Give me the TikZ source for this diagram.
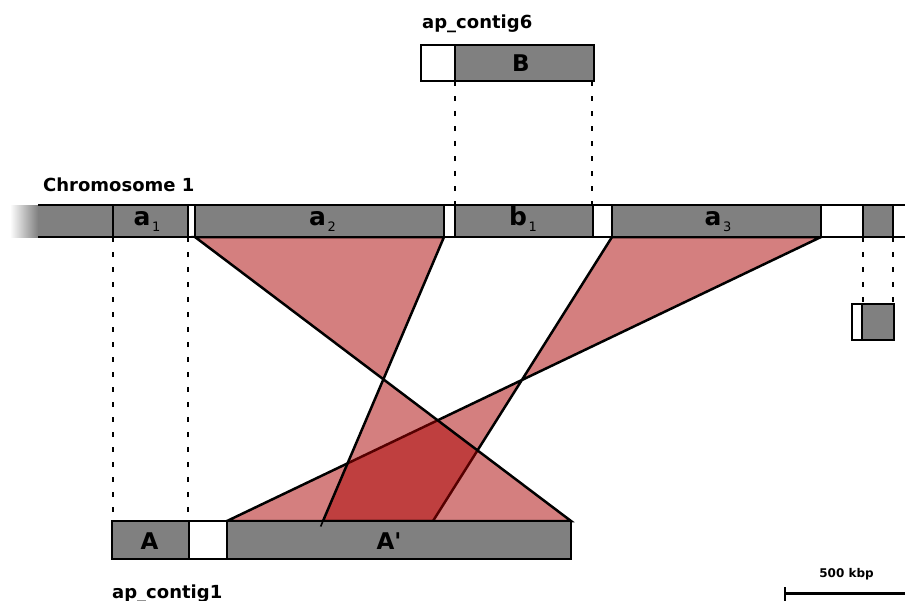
\documentclass[tikz,border=0pt]{standalone}
\usepackage{fontspec}
\setmainfont{DejaVu Sans}
\usetikzlibrary{calc}
\definecolor{blockgray}{HTML}{808080}
\definecolor{synteny}{HTML}{AA0000}
\begin{document}
\begin{tikzpicture}[x=1pt,y=-1pt,
  seg/.style={draw, line width=2.7pt, inner sep=0pt, outer sep=0pt, anchor=north west},
  gene/.style={seg, fill=blockgray},
  gapbox/.style={seg, fill=white},
  dotline/.style={line width=2.8pt, dash pattern=on 5pt off 10pt},
  link/.style={fill=synteny, fill opacity=0.5, draw=black, line width=2.5pt, line join=miter},
  title/.style={font=\fontsize{18}{18}\selectfont\bfseries, inner sep=0pt, anchor=base west},
  caplabel/.style={font=\fontsize{23}{23}\selectfont\bfseries, inner sep=0pt, anchor=base},
  genelabel/.style={font=\fontsize{25}{25}\selectfont\bfseries, inner sep=0pt, anchor=base},
  scaletext/.style={font=\fontsize{12}{12}\selectfont\bfseries, inner sep=0pt, anchor=base}
]
\newcommand{\idx}[1]{\kern1.5pt\raisebox{-6pt}{\fontsize{13}{13}\selectfont\mdseries #1}}
\useasboundingbox (0,0) rectangle (905,600);

% chromosome 1 segments
\node[seg, draw=none, fill=blockgray, minimum width=75pt, minimum height=32pt] (c0) at (38,205) {};
\node[gene,   minimum width=75pt,  minimum height=32pt] (a1) at (113,205) {};
\node[gapbox, minimum width=7pt,   minimum height=32pt] (g1) at (188,205) {};
\node[gene,   minimum width=249pt, minimum height=32pt] (a2) at (195,205) {};
\node[gapbox, minimum width=11pt,  minimum height=32pt] (g2) at (444,205) {};
\node[gene,   minimum width=138pt, minimum height=32pt] (b1) at (455,205) {};
\node[gapbox, minimum width=19pt,  minimum height=32pt] (g3) at (593,205) {};
\node[gene,   minimum width=209pt, minimum height=32pt] (a3) at (612,205) {};
\node[gapbox, minimum width=42pt,  minimum height=32pt] (g4) at (821,205) {};
\node[gene,   minimum width=30pt,  minimum height=32pt] (c6) at (863,205) {};
\node[gapbox, minimum width=22pt,  minimum height=32pt] (g5) at (893,205) {};

% ap_contig6
\node[gapbox, minimum width=34pt,  minimum height=36pt] (u6) at (421,45) {};
\node[gene,   minimum width=139pt, minimum height=36pt] (B)  at (455,45) {};

% small contig on the right
\node[gapbox, minimum width=10pt, minimum height=36pt] (us) at (852,304) {};
\node[gene,   minimum width=32pt, minimum height=36pt] (s1) at (862,304) {};

% ap_contig1
\node[gene,   minimum width=77pt,  minimum height=38pt] (A)  at (112,521) {};
\node[gapbox, minimum width=38pt,  minimum height=38pt] (u1) at (189,521) {};
\node[gene,   minimum width=344pt, minimum height=38pt] (Ap) at (227,521) {};

\coordinate (p1) at (323,521);
\coordinate (p2) at (433,521);

% inverted synteny links: a3 first, a2 on top
\path[link] (a3.south west) -- (p2) -- (Ap.north west) -- (a3.south east) -- cycle;
\path[link] (a2.south west) -- (Ap.north east) -- (p1) -- (a2.south east) -- cycle;

% redraw blocks over the link edges
\node[gene,   minimum width=249pt, minimum height=32pt] at (195,205) {};
\node[gapbox, minimum width=11pt,  minimum height=32pt] at (444,205) {};
\node[gene,   minimum width=138pt, minimum height=32pt] at (455,205) {};
\node[gapbox, minimum width=19pt,  minimum height=32pt] at (593,205) {};
\node[gene,   minimum width=209pt, minimum height=32pt] at (612,205) {};
\node[gapbox, minimum width=42pt,  minimum height=32pt] at (821,205) {};
\node[gene,   minimum width=344pt, minimum height=38pt] at (227,521) {};
\node[gapbox, minimum width=38pt,  minimum height=38pt] at (189,521) {};

% the a2 link edge pokes slightly into A'
\draw[line width=1.6pt] (p1) -- ($(p1)!-6pt!(a2.south east)$);

% fading left end and open border of the chromosome
\shade[left color=white, right color=blockgray] (10,205) rectangle (c0.south west);
\draw[line width=2.7pt] (c0.north west) -- (a1.north west);
\draw[line width=2.7pt] (c0.south west) -- (a1.south west);

% dotted correspondence lines
\draw[dotline] (a1.south west) -- (a1.south west |- A.north);
\draw[dotline] (a1.south east) -- (a1.south east |- A.north);
\draw[dotline] (B.south west) -- (B.south west |- b1.north);
\draw[dotline] ([xshift=-2pt]B.south east) -- ([xshift=-2pt]B.south east |- b1.north);
\draw[dotline] (c6.south west) -- (c6.south west |- s1.north);
\draw[dotline] (c6.south east) -- (c6.south east |- s1.north);

% labels
\node[title] at (43,191) {Chromosome 1};
\node[title] at (422,28) {ap\_contig6};
\node[title] at (112,598) {ap\_contig1};

\node[caplabel] at (521,71) {B};
\node[caplabel] at (149.5,549) {A};
\node[caplabel] at (389,549) {A\textquotesingle};

\node[genelabel] at (147,225.7) {a\idx{1}};
\node[genelabel] at (322.5,225.7) {a\idx{2}};
\node[genelabel] at (523,225.7) {b\idx{1}};
\node[genelabel] at (718,225.7) {a\idx{3}};

% scale bar
\coordinate (sb0) at (785,593.5);
\coordinate (sb1) at (905,593.5);
\draw[line width=3pt] (sb0) -- (sb1);
\draw[line width=2pt] ([yshift=-7pt]sb0) -- ([yshift=7pt]sb0);
\node[scaletext] at (846.5,577) {500 kbp};
\end{tikzpicture}
\end{document}
